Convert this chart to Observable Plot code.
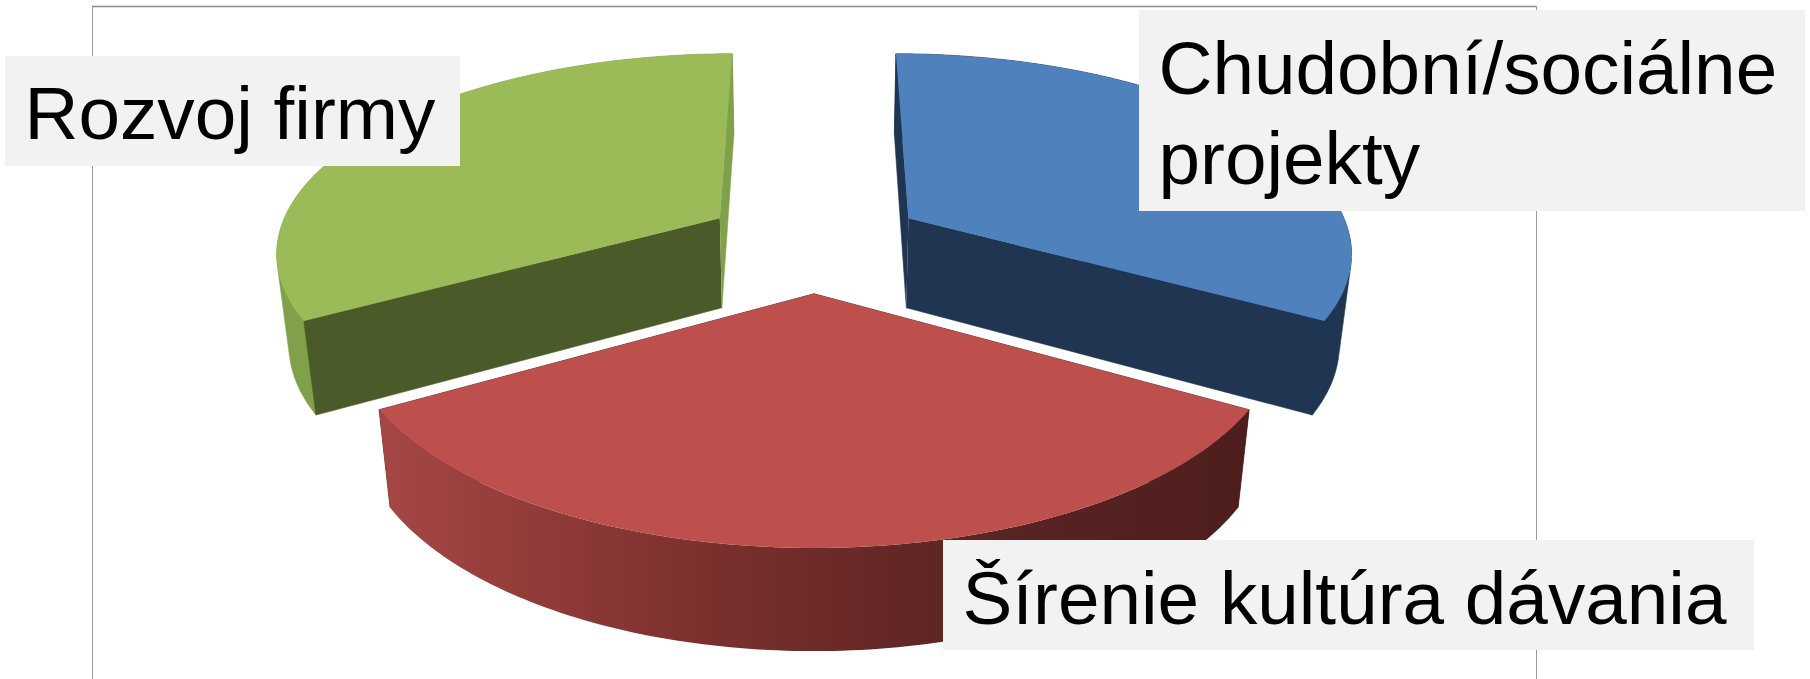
<!DOCTYPE html>
<html>
<head>
<meta charset="utf-8">
<script src="https://cdn.jsdelivr.net/npm/d3@7"></script>
<script src="https://cdn.jsdelivr.net/npm/@observablehq/plot@0.6"></script>
<style>
html,body{margin:0;padding:0;background:#fff;overflow:hidden}
svg{display:block}
</style>
</head>
<body>
<script>
// Chart data
const categories = ["Chudobní/sociálne\nprojekty", "Šírenie kultúra dávania", "Rozvoj firmy"];
const shares = [1, 1, 1];
const topColors = ["#4f81bd", "#bd4f4c", "#9bbb59"];
const startFaceColors = ["#1f3552", "#4d1e1d", "#4b5a29"];
const endFaceColors = ["#1f3552", "#4d1e1d", "#81a04a"];
const outerColors = ["#1f3552", "url(#redSide)", "#81a04a"];

// Layout of the picture
const W = 1810, H = 679;
const cx = 813.6, y0 = 242, unit = 444;   // pie origin and radius in pixels
const tiltY = 197 / 444, drop = 92.6 / 444, persp = 0.155, dropPersp = 0.023, explode = 0.25;
const ux = p => (p - cx) / unit, uy = p => (p - y0) / unit;

// Perspective projection of a pie point; t = 0 top surface, t = 1 bottom surface
function project(X, Y, t) {
  const w = 1 - persp * Y + dropPersp * t;
  return {x: X / w, y: (tiltY * Y + drop * t) / w};
}

const arcs = d3.pie().value(d => d).sort(null)(shares);

function faces(arc, i) {
  const mid = (arc.startAngle + arc.endAngle) / 2;
  const ox = explode * Math.sin(mid), oy = -explode * Math.cos(mid);
  const rim = (a, t) => project(ox + Math.sin(a), oy - Math.cos(a), t);
  const apex = t => project(ox, oy, t);
  const angles = d3.range(0, 121).map(k => arc.startAngle + (arc.endAngle - arc.startAngle) * k / 120);
  const radial = a => [apex(0), rim(a, 0), rim(a, 1), apex(1)];
  const band = [...angles.map(a => rim(a, 0)), ...angles.slice().reverse().map(a => rim(a, 1))];
  const top = {points: [apex(0), ...angles.map(a => rim(a, 0))], fill: topColors[i], stroke: "none"};
  const radials = [
    {points: radial(arc.startAngle), fill: startFaceColors[i], stroke: startFaceColors[i]},
    {points: radial(arc.endAngle), fill: endFaceColors[i], stroke: endFaceColors[i]}
  ];
  if (i === 1) {
    // The near slice: its rim hides its cut faces and never folds over itself
    return [...radials, {points: band, fill: outerColors[i], stroke: "none"}, top];
  }
  // The far slices: the rim folds at its silhouette, so its outline is taken whole and the other faces go over it
  const hull = d3.polygonHull(band.map(p => [p.x, p.y])).map(([x, y]) => ({x, y}));
  return [{points: hull, fill: outerColors[i], stroke: outerColors[i]}, ...radials, top];
}

// Draw the far slices first, the near red slice last
const drawOrder = [2, 0, 1];
const sliceMarks = drawOrder.flatMap(i => faces(arcs[i], i)).map(f =>
  Plot.line(f.points, {x: "x", y: "y", fill: f.fill, stroke: f.stroke, strokeWidth: 0.6})
);

const labelBoxes = [
  {x1: ux(5), x2: ux(460), y1: uy(56), y2: uy(166)},
  {x1: ux(1139), x2: ux(1805), y1: uy(10), y2: uy(211)},
  {x1: ux(943), x2: ux(1754), y1: uy(540), y2: uy(650)}
];
const labelText = [
  {x: ux(24), y: uy(138), label: categories[2]},
  {x: ux(1158), y: uy(183), label: categories[0]},
  {x: ux(962), y: uy(623), label: categories[1]}
];

const gradient = () => {
  const ns = "http://www.w3.org/2000/svg";
  const defs = document.createElementNS(ns, "defs");
  const g = document.createElementNS(ns, "linearGradient");
  g.setAttribute("id", "redSide");
  g.setAttribute("x1", "0"); g.setAttribute("x2", "1"); g.setAttribute("y1", "0"); g.setAttribute("y2", "0");
  [[0, "#a54745"], [0.37, "#7c302e"], [0.66, "#5c2524"], [1, "#4d1e1d"]].forEach(([o, c]) => {
    const s = document.createElementNS(ns, "stop");
    s.setAttribute("offset", o); s.setAttribute("stop-color", c);
    g.appendChild(s);
  });
  defs.appendChild(g);
  return defs;
};

const chart = Plot.plot({
  width: W, height: H,
  marginLeft: 0, marginRight: 0, marginTop: 0, marginBottom: 0,
  x: {domain: [ux(0), ux(W)], range: [0, W], axis: null},
  y: {domain: [uy(0), uy(H)], range: [0, H], axis: null},
  style: {background: "#fff"},
  marks: [
    gradient,
    Plot.ruleY([uy(6)], {x1: ux(92), x2: ux(1536), stroke: "#8c8c8c", strokeWidth: 1.5}),
    Plot.ruleX([ux(92), ux(1536)], {y1: uy(6), y2: uy(H), stroke: "#9a9a9a", strokeWidth: 1}),
    ...sliceMarks,
    Plot.rect(labelBoxes, {x1: "x1", x2: "x2", y1: "y1", y2: "y2", fill: "#f2f2f2"}),
    Plot.text(labelText, {
      x: "x", y: "y", text: "label",
      fontFamily: "Liberation Sans", fontSize: 74.7, fill: "#000",
      textAnchor: "start", lineAnchor: "bottom", lineHeight: 90 / 74.7
    })
  ]
});
document.body.appendChild(chart);
</script>
</body>
</html>
